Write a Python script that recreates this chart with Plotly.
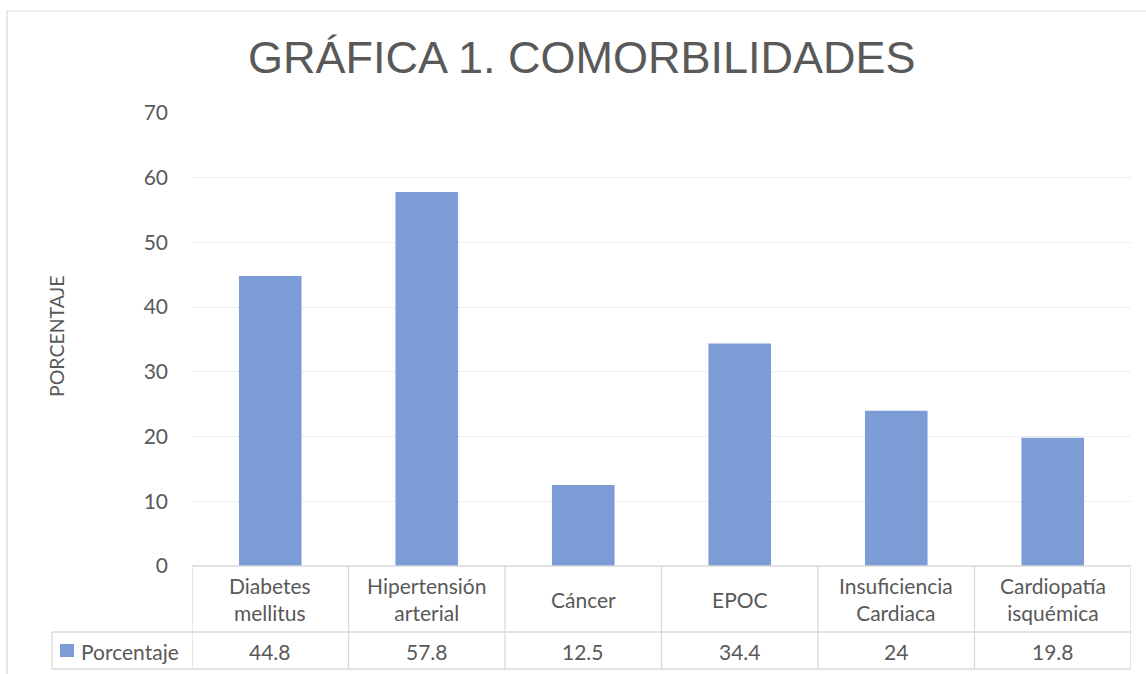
import plotly.graph_objects as go

categories = ["Diabetes<br>mellitus", "Hipertensión<br>arterial", "Cáncer", "EPOC",
              "Insuficiencia<br>Cardiaca", "Cardiopatía<br>isquémica"]
values = [44.8, 57.8, 12.5, 34.4, 24, 19.8]
value_labels = ["44.8", "57.8", "12.5", "34.4", "24", "19.8"]
series_name = "Porcentaje"
title_text = "GRÁFICA 1. COMORBILIDADES"
y_title = "PORCENTAJE"
y_ticks = [0, 10, 20, 30, 40, 50, 60, 70]

W, H = 1146, 674
L, R, T, B = 192, 15, 113, 108
PW = W - L - R
PH = H - T - B

def py(Y):
    return (H - B - Y) / PH

def px(X):
    return (X - L) / PW

BAR = "#7C9CD6"
TXT = "#595959"
BORDER = "#D9D9D9"
FONT = "Lato, 'Open Sans', sans-serif"
FS = 21

x_idx = list(range(len(categories)))

fig = go.Figure()
fig.add_trace(go.Bar(x=x_idx, y=values, marker=dict(color=BAR, line=dict(width=0)),
                     name=series_name, showlegend=False, hoverinfo="skip"))

shapes = []
annotations = []

# outer chart border
shapes.append(dict(type="rect", xref="paper", yref="paper",
                   x0=px(7), x1=px(W + 5), y0=py(H + 5), y1=py(11),
                   line=dict(color=BORDER, width=1.2), fillcolor="rgba(0,0,0,0)", layer="below"))

# data table grid
row_mid = 632
row_bot = 669
n = len(categories)
shapes.append(dict(type="line", xref="x", yref="paper", x0=-0.5, x1=n - 0.5,
                   y0=py(566), y1=py(566), line=dict(color=BORDER, width=1.3)))
shapes.append(dict(type="line", xref="paper", yref="paper", x0=px(52), x1=1,
                   y0=py(row_mid), y1=py(row_mid), line=dict(color=BORDER, width=1.3)))
shapes.append(dict(type="line", xref="paper", yref="paper", x0=px(52), x1=1,
                   y0=py(row_bot), y1=py(row_bot), line=dict(color=BORDER, width=1.3)))
for i in range(n + 1):
    shapes.append(dict(type="line", xref="x", yref="paper", x0=i - 0.5, x1=i - 0.5,
                       y0=py(566), y1=py(row_bot), line=dict(color=BORDER, width=1.3)))
shapes.append(dict(type="line", xref="paper", yref="paper", x0=px(52), x1=px(52),
                   y0=py(row_mid), y1=py(row_bot), line=dict(color=BORDER, width=1.3)))
# legend key
shapes.append(dict(type="rect", xref="paper", yref="paper", x0=px(60), x1=px(74),
                   y0=py(657), y1=py(644), line=dict(width=0), fillcolor=BAR))

for i, (c, v) in enumerate(zip(categories, value_labels)):
    annotations.append(dict(x=i, xref="x", y=py(599), yref="paper", text=c, showarrow=False,
                            xanchor="center", yanchor="middle",
                            font=dict(family=FONT, size=FS, color=TXT)))
    annotations.append(dict(x=i, xref="x", y=py(651), yref="paper", text=v, showarrow=False,
                            xanchor="center", yanchor="middle",
                            font=dict(family=FONT, size=FS, color=TXT)))

annotations.append(dict(x=px(79), xref="paper", y=py(651), yref="paper", text=series_name,
                        showarrow=False, xanchor="left", yanchor="middle",
                        font=dict(family=FONT, size=FS, color=TXT)))

annotations.append(dict(x=px(56), xref="paper", y=py(337), yref="paper", text=y_title,
                        showarrow=False, textangle=-90, xanchor="center", yanchor="middle",
                        font=dict(family=FONT, size=19.5, color=TXT)))

annotations.append(dict(x=px(582), xref="paper", y=py(57), yref="paper", text=title_text,
                        showarrow=False, xanchor="center", yanchor="middle",
                        font=dict(family="'Liberation Sans', Arial, sans-serif", size=45, color=TXT)))

fig.update_layout(
    width=W, height=H,
    margin=dict(l=L, r=R, t=T, b=B),
    paper_bgcolor="white", plot_bgcolor="white",
    bargap=0.6,
    shapes=shapes, annotations=annotations,
    xaxis=dict(range=[-0.5, n - 0.5], showticklabels=False, showgrid=False, zeroline=False,
               showline=False, ticks="", fixedrange=True),
    yaxis=dict(range=[0, 70], tickvals=y_ticks, showgrid=True, gridcolor="#EEEEEE", gridwidth=1.3,
               zeroline=False, showline=False, ticks="", ticklabelstandoff=23,
               tickfont=dict(family=FONT, size=FS, color=TXT), fixedrange=True),
)

fig.write_html("out.html", config={"displayModeBar": False},
               post_script="document.body.style.margin='0';document.body.style.overflow='hidden';")
